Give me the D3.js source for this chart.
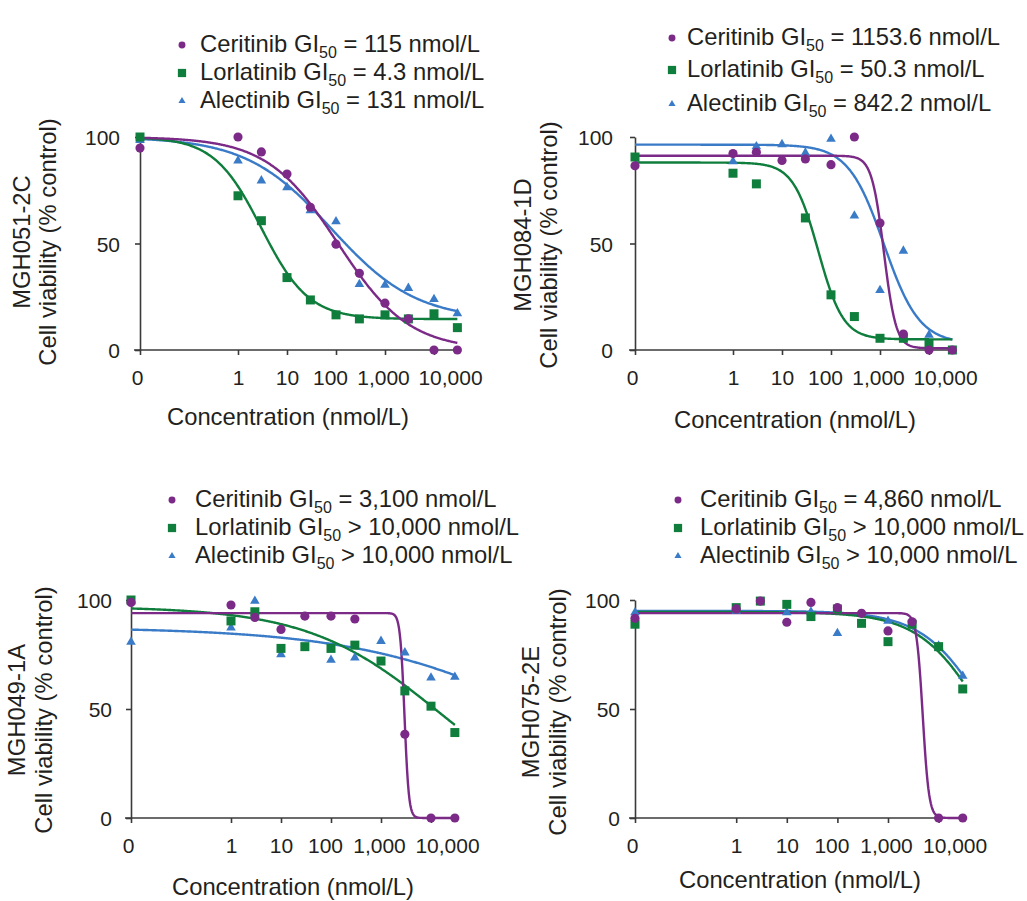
<!DOCTYPE html>
<html>
<head>
<meta charset="utf-8">
<script src="https://cdn.jsdelivr.net/npm/d3@7"></script>
<style>
  html, body { margin: 0; padding: 0; background: #fff; }
  svg { display: block; }
  text { font-family: "Liberation Sans", Arial, Helvetica, sans-serif; fill: #231f20; }
</style>
</head>
<body>
<svg id="chart" width="1027" height="901"></svg>
<script>
// ---------------- DATA ----------------
const concentrations = [0, 1, 3, 10, 30, 100, 300, 1000, 3000, 10000, 30000];
const xTickValues = [0, 1, 10, 100, 1000, 10000];
const xTickLabels = ["0", "1", "10", "100", "1,000", "10,000"];
const yTickValues = [0, 50, 100];
const drugs = ["Ceritinib", "Lorlatinib", "Alectinib"];
const cellLines = ["MGH051-2C", "MGH084-1D", "MGH049-1A", "MGH075-2E"];

const gi50Text_MGH051 = ["= 115 nmol/L", "= 4.3 nmol/L", "= 131 nmol/L"];
const gi50Text_MGH084 = ["= 1153.6 nmol/L", "= 50.3 nmol/L", "= 842.2 nmol/L"];
const gi50Text_MGH049 = ["= 3,100 nmol/L", "> 10,000 nmol/L", "> 10,000 nmol/L"];
const gi50Text_MGH075 = ["= 4,860 nmol/L", "> 10,000 nmol/L", "> 10,000 nmol/L"];

// viability (% control) at each concentration; null = not visible
const MGH051_ceritinib  = [94.8, 100, 93, 82.6, 67, 49.7, 36, 22, 14.6, 0, 0];
const MGH051_lorlatinib = [100, 72.4, 60.7, 34, 23.5, 16.5, 14.6, 16.5, 14.6, 17, 10.5];
const MGH051_alectinib  = [99, 89.3, 80, 76.8, 66, 60.8, 31.3, 31, 29.5, 24.3, 17.6];

const MGH084_ceritinib  = [86.5, 92.2, 92.8, 89, 89.7, 87, 100, 59.6, 7.5, 0, 0];
const MGH084_lorlatinib = [90.6, 83, 78, null, 62, 25.9, 15.7, 5.5, 5.5, 2.8, 0];
const MGH084_alectinib  = [null, 89, 96, 97, 93, 99.5, 63.5, 28.5, 47, 7.5, null];

const MGH049_ceritinib  = [98.9, 97.7, 92, 86.5, 92.6, 92.6, 91.3, null, 38.4, 0, 0];
const MGH049_lorlatinib = [100, 90.4, 94.6, 77.8, 78.6, 77.8, 79.3, 72, 58.3, 51.3, 39.2];
const MGH049_alectinib  = [81.2, 87.7, 100, 75.5, null, 72.9, 74, 81.6, 76.3, 64.8, 65.1];

const MGH075_ceritinib  = [91.6, 95.9, 99.5, 89.8, 98.9, 96.5, 93.9, 85.8, 90, 0, 0];
const MGH075_lorlatinib = [88.9, 96.5, 99.5, 98, 92.4, 95.9, 89.3, 80.9, 88.9, 78.6, 59.2];
const MGH075_alectinib  = [94.7, 95.4, null, 94.7, 95, 85.2, null, 90.8, null, 79.4, 65.6];

// fitted dose-response curves: [top, bottom, EC50 (nmol/L), hill slope]
const MGH051_fits = [[100, 0, 110, 0.6], [100, 14.5, 3, 0.9], [100, 14, 80, 0.5]];
const MGH084_fits = [[91.2, 0.8, 1200, 3.5], [88, 5, 55, 1.7], [96.4, 3, 1200, 1.2]];
const MGH049_fits = [[94, 0, 2950, 10], [97, 0, 14450, 0.33], [87.5, 0, 4270000, 0.22]];
const MGH075_fits = [[94, 0, 4860, 7], [94.5, 0, 80000, 0.687], [95, 0, 96000, 0.69]];

// ---------------- LAYOUT / STYLE ----------------
const colors = ["#7b2a87", "#0f7d3c", "#3a7bc8"];
const symbols = [d3.symbolCircle, d3.symbolSquare, d3.symbolTriangle];
const markSizes = [66, 81, 40];
const legendSizes = [38, 68, 22];
const zeroPos = 0.01;            // where "0" sits on the log axis
const xEnd = 30000;
const labelNudge = [-3, 0, 0, -6, -2, 16];
const titleSize = 23.8;

const panels = [
  { values: [MGH051_ceritinib, MGH051_lorlatinib, MGH051_alectinib], fits: MGH051_fits, gi: gi50Text_MGH051,
    x0: 140, dec: 49, y0: 350, y100: 137, yLblDx: -20, xTitleX: 288, xTitleDy: 75,
    yt1: 30, yt2: 56, ytY: 242, legX: 182, legTextX: 200, legY: [52, 80, 108] },
  { values: [MGH084_ceritinib, MGH084_lorlatinib, MGH084_alectinib], fits: MGH084_fits, gi: gi50Text_MGH084,
    x0: 635, dec: 49, y0: 350, y100: 137, yLblDx: -22, xTitleX: 795, xTitleDy: 78,
    yt1: 531, yt2: 557, ytY: 245, legX: 672, legTextX: 687, legY: [45, 77, 111] },
  { values: [MGH049_ceritinib, MGH049_lorlatinib, MGH049_alectinib], fits: MGH049_fits, gi: gi50Text_MGH049,
    x0: 131, dec: 50, y0: 818, y100: 600, yLblDx: -19, xTitleX: 293, xTitleDy: 77,
    yt1: 25, yt2: 52, ytY: 710, legX: 172, legTextX: 195, legY: [507, 535, 563] },
  { values: [MGH075_ceritinib, MGH075_lorlatinib, MGH075_alectinib], fits: MGH075_fits, gi: gi50Text_MGH075,
    x0: 635, dec: 50.6, y0: 818, y100: 600, yLblDx: -15, xTitleX: 800, xTitleDy: 70,
    yt1: 539, yt2: 566, ytY: 712, legX: 678, legTextX: 700, legY: [507, 535, 563] }
];

const svg = d3.select("#chart");

function logistic(c, p) {
  const [top, bottom, ec50, h] = p;
  return bottom + (top - bottom) / (1 + Math.pow(c / ec50, h));
}

panels.forEach((P, pi) => {
  const span = Math.log10(xEnd) - Math.log10(zeroPos);
  const x = d3.scaleLog().domain([zeroPos, xEnd]).range([P.x0, P.x0 + span * P.dec]);
  const y = d3.scaleLinear().domain([0, 100]).range([P.y0, P.y100]);
  const cx = c => x(c === 0 ? zeroPos : c);
  const g = svg.append("g");

  // axes
  const xAxis = d3.axisBottom(x)
    .tickValues(xTickValues.map(v => v === 0 ? zeroPos : v))
    .tickSizeInner(5).tickSizeOuter(0)
    .tickFormat((d, i) => xTickLabels[i]);
  const xa = g.append("g").attr("transform", `translate(0,${P.y0})`).call(xAxis);
  xa.select(".domain").attr("d", `M${P.x0 - 6},0H${x(xEnd) + 2}`);
  xa.selectAll("line, path").attr("stroke", "#3a3a3a").attr("stroke-width", 1.6);
  xa.selectAll("text").attr("font-size", 21).attr("fill", "#231f20")
    .attr("y", 35).attr("dy", 0)
    .attr("dx", (d, i) => labelNudge[i]);

  const yAxis = d3.axisLeft(y).tickValues(yTickValues).tickSizeInner(5).tickSizeOuter(0);
  const ya = g.append("g").attr("transform", `translate(${P.x0},0)`).call(yAxis);
  ya.selectAll("line, path").attr("stroke", "#3a3a3a").attr("stroke-width", 1.6);
  ya.selectAll("text").attr("font-size", 21).attr("fill", "#231f20")
    .attr("x", P.yLblDx).attr("dy", "0.36em");
  xa.attr("font-family", null); ya.attr("font-family", null);

  // titles
  g.append("text").attr("x", P.xTitleX).attr("y", P.y0 + P.xTitleDy)
    .attr("text-anchor", "middle").attr("font-size", titleSize).text("Concentration (nmol/L)");
  g.append("text").attr("transform", `translate(${P.yt1},${P.ytY}) rotate(-90)`)
    .attr("text-anchor", "middle").attr("font-size", titleSize).text(cellLines[pi]);
  g.append("text").attr("transform", `translate(${P.yt2},${P.ytY}) rotate(-90)`)
    .attr("text-anchor", "middle").attr("font-size", titleSize).text("Cell viability (% control)");

  // curves
  const logs = d3.range(0, 401).map(i => Math.log10(zeroPos) + span * i / 400);
  const line = d3.line().x(d => x(d[0])).y(d => y(d[1]));
  [2, 1, 0].forEach(di => {
    const pts = logs.map(l => { const c = Math.pow(10, l); return [c, logistic(c, P.fits[di])]; });
    g.append("path").attr("d", line(pts)).attr("fill", "none")
      .attr("stroke", colors[di]).attr("stroke-width", 2.4);
  });

  // markers
  [2, 1, 0].forEach(di => {
    const pts = concentrations.map((c, i) => ({ c, v: P.values[di][i] })).filter(d => d.v !== null);
    g.selectAll(null).data(pts).enter().append("path")
      .attr("d", d3.symbol().type(symbols[di]).size(markSizes[di]))
      .attr("transform", d => `translate(${cx(d.c)},${y(d.v) + (di === 2 ? 1 : 0)})`)
      .attr("fill", colors[di]);
  });

  // legend
  drugs.forEach((name, di) => {
    const by = P.legY[di];
    g.append("path").attr("d", d3.symbol().type(symbols[di]).size(legendSizes[di]))
      .attr("transform", `translate(${P.legX},${by - 7})`).attr("fill", colors[di]);
    const t = g.append("text").attr("x", P.legTextX).attr("y", by).attr("font-size", titleSize);
    t.append("tspan").text(name + " GI");
    t.append("tspan").attr("font-size", 16).attr("dy", 6).text("50");
    t.append("tspan").attr("dy", -6).text(" " + P.gi[di]);
  });
});
</script>
</body>
</html>
